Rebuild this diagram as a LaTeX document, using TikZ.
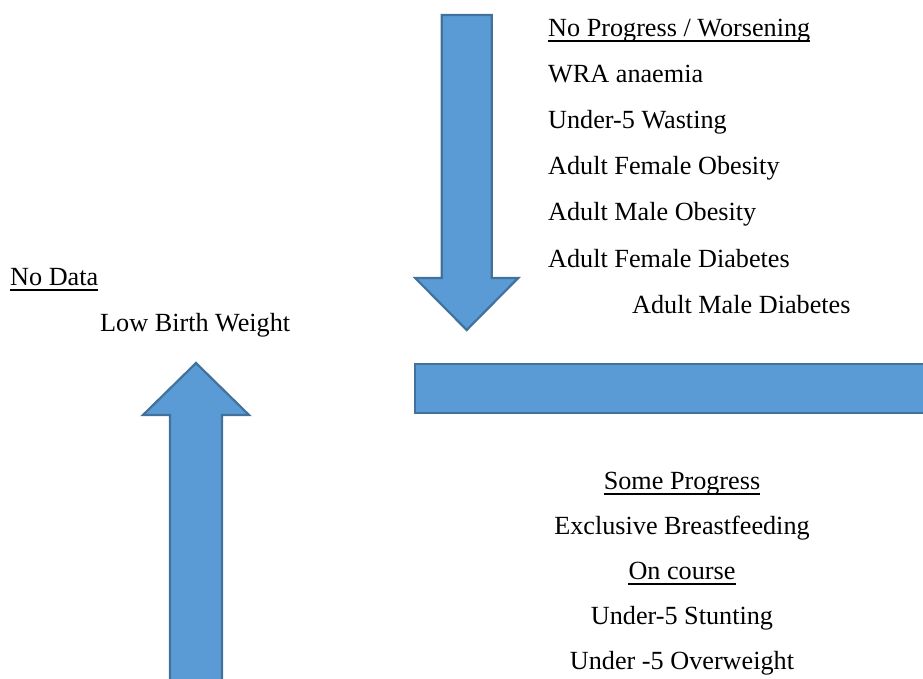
\documentclass[tikz,border=0pt]{standalone}
\usepackage{fontspec}
\setmainfont{Liberation Serif}
\definecolor{arrfill}{HTML}{5B9BD5}
\definecolor{arrline}{HTML}{41719C}
\begin{document}
\begin{tikzpicture}[x=1pt,y=-1pt,
  shapestyle/.style={fill=arrfill,draw=arrline,line width=2.2pt,line join=miter},
  lbl/.style={inner sep=0pt,font=\fontsize{26.2}{46}\selectfont},
  lleft/.style={lbl,anchor=base west},
  lcent/.style={lbl,anchor=base},
  uline/.style={line width=1.6pt,black}]
\useasboundingbox (0,0) rectangle (923,678);
\clip (0,0) rectangle (923,678);
% down arrow
\draw[shapestyle] (441.7,15) -- (491.7,15) -- (491.7,278) -- (518.2,278) -- (466.7,330) -- (415.2,278) -- (441.7,278) -- cycle;
% horizontal bar
\draw[shapestyle] (415,364) rectangle (940,413);
% up arrow
\draw[shapestyle] (170,700) -- (170,415) -- (143,415) -- (196,363) -- (249,415) -- (222,415) -- (222,700) -- cycle;
% top list
\node[lleft] (np) at (548,36) {No Progress / Worsening};
\node[lleft] (t1) at (548,82.2) {WRA anaemia};
\node[lleft] (t2) at (548,128.4) {Under-5 Wasting};
\node[lleft] (t3) at (548,174.6) {Adult Female Obesity};
\node[lleft] (t4) at (548,220.8) {Adult Male Obesity};
\node[lleft] (t5) at (548,267) {Adult Female Diabetes};
\node[lleft] (t6) at (632,313.2) {Adult Male Diabetes};
\draw[uline] ([yshift=-5pt]np.base west) -- ([yshift=-5pt]np.base east);
% no data
\node[lleft] (nd) at (10,285) {No Data};
\node[lleft] (lbw) at (100,331) {Low Birth Weight};
\draw[uline] ([yshift=-5pt]nd.base west) -- ([yshift=-5pt]nd.base east);
% bottom list
\node[lcent] (sp) at (682,489) {Some Progress};
\node[lcent] (eb) at (682,534) {Exclusive Breastfeeding};
\node[lcent] (oc) at (682,579) {On course};
\node[lcent] (us) at (682,624) {Under-5 Stunting};
\node[lcent] (uo) at (682,669) {Under -5 Overweight};
\draw[uline] ([yshift=-5pt]sp.base west) -- ([yshift=-5pt]sp.base east);
\draw[uline] ([yshift=-5pt]oc.base west) -- ([yshift=-5pt]oc.base east);
\end{tikzpicture}
\end{document}
